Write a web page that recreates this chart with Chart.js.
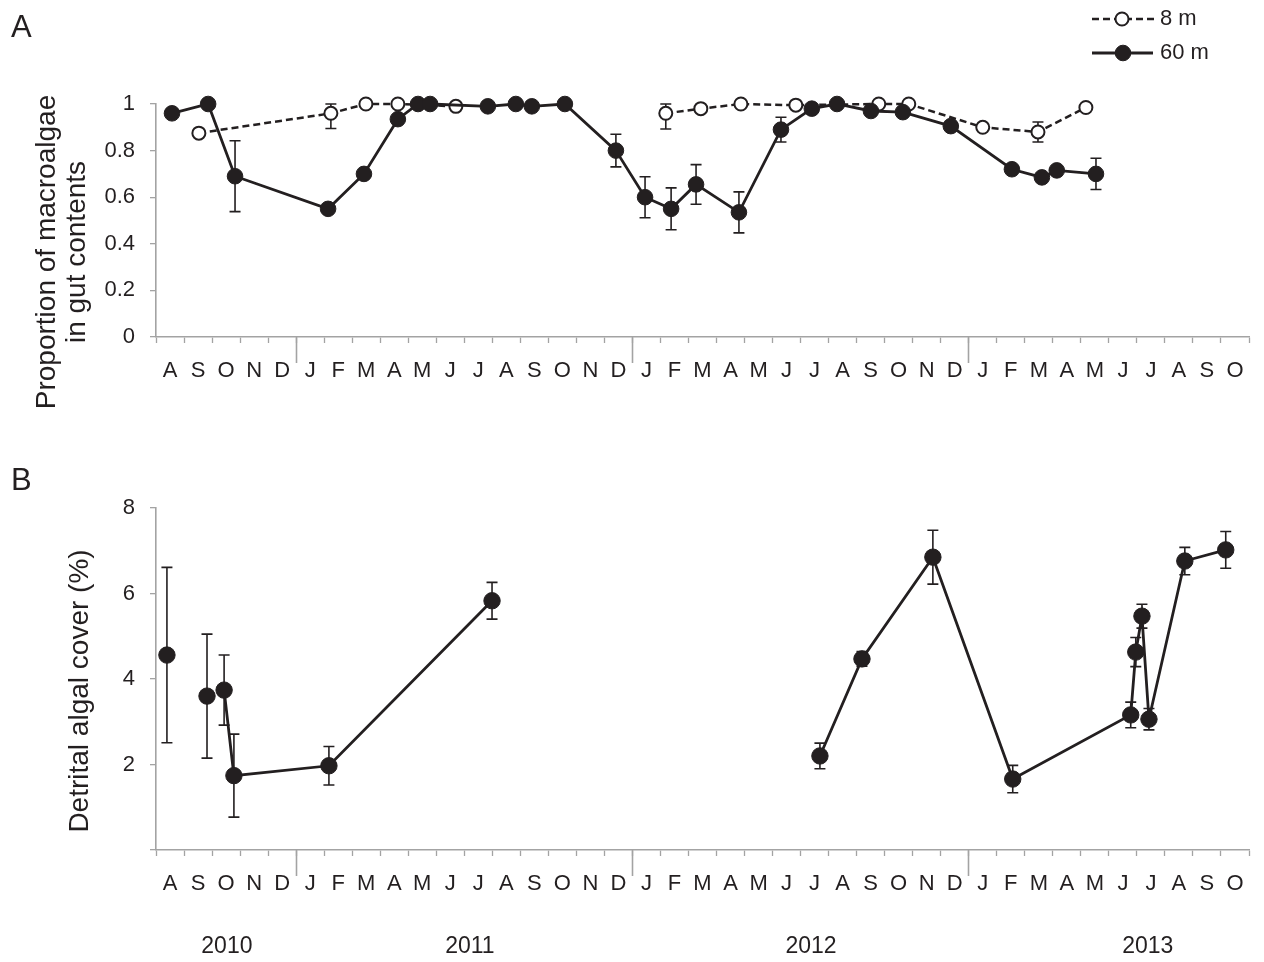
<!DOCTYPE html>
<html><head><meta charset="utf-8">
<script src="https://cdn.jsdelivr.net/npm/chart.js@4.4.0/dist/chart.umd.min.js"></script>
<style>
html,body{margin:0;padding:0;background:#fff;}
#wrap{position:relative;width:1264px;height:962px;overflow:hidden;}
#ca{position:absolute;left:0;top:0;}
#cb{position:absolute;left:0;top:460px;}
</style></head><body>
<div id="wrap"><canvas id="ca" width="1264" height="420"></canvas><canvas id="cb" width="1264" height="502"></canvas></div>
<script>
// ---------- data ----------
const monthLabels = ['A','S','O','N','D','J','F','M','A','M','J','J','A','S','O','N','D','J','F','M','A','M','J','J','A','S','O','N','D','J','F','M','A','M','J','J','A','S','O'];
const yearBreaks = [5, 17, 29];
const yearLabels = ['2010', '2011', '2012', '2013'];
const yearLabelPos = [2.53, 11.2, 23.37, 35.39];

// Panel A: proportion of macroalgae in gut contents (x = months since 1 Aug 2010)
const monthsA60 = [0.57,1.86,2.82,6.14,7.42,8.63,9.35,9.78,11.84,12.84,13.41,14.59,16.41,17.45,18.38,19.27,20.80,22.30,23.40,24.30,25.51,26.65,28.36,30.54,31.61,32.14,33.54];
const valuesA60 = [0.96,1.0,0.69,0.55,0.70,0.935,1.0,1.0,0.99,1.0,0.99,1.0,0.80,0.60,0.55,0.655,0.535,0.89,0.98,1.0,0.97,0.965,0.905,0.72,0.685,0.715,0.70];
const errorsA60 = [0,0,0.152,0,0,0,0,0,0,0,0,0,0.07,0.088,0.09,0.085,0.088,0.053,0,0,0,0,0,0,0,0,0.067];
const gapsA60 = [];

const monthsA8 = [1.53,6.24,7.49,8.63,10.70,18.19,19.44,20.87,22.83,25.79,26.86,29.50,31.47,33.18];
const valuesA8 = [0.875,0.96,1.0,1.0,0.99,0.96,0.98,1.0,0.995,1.0,1.0,0.90,0.88,0.985];
const errorsA8 = [0,0.065,0,0,0,0.067,0,0,0,0,0,0,0.043,0];
const gapsA8 = [4];

// Panel B: detrital algal cover (%)
const monthsB = [0.39,1.82,2.43,2.78,6.17,11.99,23.69,25.19,27.72,30.57,34.78,34.96,35.18,35.43,36.71,38.17];
const valuesB = [4.56,3.60,3.74,1.74,1.97,5.83,2.2,4.47,6.85,1.66,3.16,4.63,5.47,3.06,6.76,7.02];
const errorsB = [2.05,1.45,0.82,0.97,0.45,0.43,0.3,0.17,0.63,0.32,0.3,0.34,0.28,0.25,0.32,0.43];
const gapsB = [0, 1, 5];

// ---------- styling ----------
const FONT = "'Liberation Sans', Arial, Helvetica, sans-serif";
const INK = '#231f20';
const AXIS = '#a3a3a3';
const NONE = 'rgba(0,0,0,0)';
const TICK_SIZE = 22;

function buildSeries(months, values, errors, gaps) {
  const data = [], errs = [];
  months.forEach((m, i) => {
    data.push({x: m, y: values[i]}); errs.push(errors[i]);
    if (gaps.includes(i)) { data.push({x: m, y: null}); errs.push(null); }
  });
  return {data, errs};
}

const halfTicks = [];
for (let i = 0; i <= monthLabels.length * 2; i++) halfTicks.push(i / 2);

const errorBarPlugin = {
  id: 'errorBars',
  beforeDatasetsDraw(chart) {
    const ctx = chart.ctx;
    chart.data.datasets.forEach((ds, di) => {
      if (!ds.errorBars) return;
      const meta = chart.getDatasetMeta(di);
      const ys = chart.scales[meta.yAxisID];
      ctx.save();
      ctx.strokeStyle = INK; ctx.lineWidth = 1.6;
      ds.data.forEach((p, i) => {
        const e = ds.errorBars[i];
        if (!e || p.y == null) return;
        const x = meta.data[i].x;
        const yT = ys.getPixelForValue(Math.min(p.y + e, ys.max));
        const yB = ys.getPixelForValue(Math.max(p.y - e, ys.min));
        ctx.beginPath();
        ctx.moveTo(x, yT); ctx.lineTo(x, yB);
        ctx.moveTo(x - 5.5, yT); ctx.lineTo(x + 5.5, yT);
        ctx.moveTo(x - 5.5, yB); ctx.lineTo(x + 5.5, yB);
        ctx.stroke();
      });
      ctx.restore();
    });
  }
};

const lineLegendPlugin = {
  id: 'lineLegend',
  afterDraw(chart, args, opts) {
    if (!opts.items) return;
    const ctx = chart.ctx;
    opts.items.forEach(it => {
      const ds = chart.data.datasets[it.dataset];
      ctx.save();
      ctx.strokeStyle = ds.borderColor; ctx.lineWidth = ds.borderWidth;
      ctx.setLineDash(ds.borderDash || []);
      ctx.beginPath(); ctx.moveTo(it.x0, it.y); ctx.lineTo(it.x1, it.y); ctx.stroke();
      ctx.setLineDash([]);
      ctx.beginPath(); ctx.arc(it.cx, it.y, ds.pointRadius, 0, Math.PI * 2);
      ctx.fillStyle = ds.pointBackgroundColor; ctx.fill();
      ctx.lineWidth = ds.pointBorderWidth; ctx.strokeStyle = ds.pointBorderColor; ctx.stroke();
      ctx.fillStyle = INK; ctx.font = `${opts.size}px ${FONT}`;
      ctx.textAlign = 'left'; ctx.textBaseline = 'middle';
      ctx.fillText(ds.label, it.tx, it.y);
      ctx.restore();
    });
  }
};

const panelTextPlugin = {
  id: 'panelText',
  afterDraw(chart, args, opts) {
    const ctx = chart.ctx;
    (opts.texts || []).forEach(t => {
      ctx.save();
      ctx.font = `${t.size}px ${FONT}`; ctx.fillStyle = INK;
      ctx.textAlign = t.align || 'left'; ctx.textBaseline = 'middle';
      ctx.translate(t.x, t.y);
      if (t.rotate) ctx.rotate(t.rotate);
      ctx.fillText(t.text, 0, 0);
      ctx.restore();
    });
  }
};

function monthAxis(height) {
  return {
    type: 'linear', min: 0, max: monthLabels.length, position: 'bottom', weight: 2,
    afterBuildTicks: s => { s.ticks = halfTicks.map(v => ({value: v})); },
    afterFit: s => { s.height = height; },
    grid: {drawOnChartArea: false, tickLength: 6, tickWidth: 1.3,
      tickColor: c => (c.tick && Number.isInteger(c.tick.value)) ? AXIS : NONE},
    border: {color: AXIS, width: 1.6},
    ticks: {autoSkip: false, maxRotation: 0, minRotation: 0, padding: 15, color: INK,
      font: {family: FONT, size: TICK_SIZE},
      callback: v => Number.isInteger(v) ? '' : monthLabels[Math.floor(v)]}
  };
}
function yearTickAxis() {
  return {
    type: 'linear', min: 0, max: monthLabels.length, position: 'bottom', weight: 0,
    afterBuildTicks: s => { s.ticks = yearBreaks.map(v => ({value: v})); },
    afterFit: s => { s.height = 0; },
    grid: {drawOnChartArea: false, tickLength: 26, tickWidth: 1.6, tickColor: AXIS},
    border: {display: false},
    ticks: {display: false}
  };
}
function yAxis(min, max, step, padLeft, cb) {
  return {
    min, max, position: 'left',
    afterFit: s => { s.width = padLeft; },
    grid: {drawOnChartArea: false, tickLength: 6, color: AXIS, lineWidth: 1.3},
    border: {color: AXIS, width: 1.6},
    ticks: {stepSize: step, padding: 15, color: INK, font: {family: FONT, size: TICK_SIZE}, callback: cb}
  };
}

// ---------- Panel A ----------
const sA60 = buildSeries(monthsA60, valuesA60, errorsA60, gapsA60);
const sA8 = buildSeries(monthsA8, valuesA8, errorsA8, gapsA8);

new Chart(document.getElementById('ca'), {
  type: 'line',
  data: {datasets: [
    {label: '60 m', data: sA60.data, errorBars: sA60.errs, borderColor: INK, borderWidth: 2.8,
     pointRadius: 7.8, pointBackgroundColor: INK, pointBorderColor: INK, pointBorderWidth: 1,
     spanGaps: false, clip: false, tension: 0},
    {label: '8 m', data: sA8.data, errorBars: sA8.errs, borderColor: INK, borderWidth: 2.5, borderDash: [7, 4],
     pointRadius: 6.5, pointBackgroundColor: '#ffffff', pointBorderColor: INK, pointBorderWidth: 2,
     spanGaps: false, clip: false, tension: 0}
  ]},
  options: {
    responsive: false, animation: false, events: [],
    layout: {padding: {top: 104, right: 14, left: 0, bottom: 0}},
    plugins: {
      legend: {display: false}, tooltip: {enabled: false},
      lineLegend: {size: 22, items: [
        {dataset: 1, x0: 1092, x1: 1155, cx: 1122, tx: 1160, y: 19},
        {dataset: 0, x0: 1092, x1: 1153, cx: 1123, tx: 1160, y: 53}
      ]},
      panelText: {texts: [
        {text: 'A', x: 11, y: 28, size: 31},
        {text: 'Proportion of macroalgae', x: 47, y: 252, size: 28, align: 'center', rotate: -Math.PI / 2},
        {text: 'in gut contents', x: 77, y: 252, size: 28, align: 'center', rotate: -Math.PI / 2}
      ]}
    },
    scales: {
      x: monthAxis(83),
      xYear: yearTickAxis(),
      y: yAxis(0, 1, 0.2, 156, v => v)
    }
  },
  plugins: [errorBarPlugin, lineLegendPlugin, panelTextPlugin]
});

// ---------- Panel B ----------
const sB = buildSeries(monthsB, valuesB, errorsB, gapsB);

new Chart(document.getElementById('cb'), {
  type: 'line',
  data: {datasets: [
    {label: 'Detrital algal cover', data: sB.data, errorBars: sB.errs, borderColor: INK, borderWidth: 2.8,
     pointRadius: 8.2, pointBackgroundColor: INK, pointBorderColor: INK, pointBorderWidth: 1,
     spanGaps: false, clip: false, tension: 0}
  ]},
  options: {
    responsive: false, animation: false, events: [],
    layout: {padding: {top: 48, right: 14, left: 0, bottom: 0}},
    plugins: {
      legend: {display: false}, tooltip: {enabled: false},
      panelText: {texts: [
        {text: 'B', x: 11, y: 21, size: 31},
        {text: 'Detrital algal cover (%)', x: 80, y: 231, size: 28, align: 'center', rotate: -Math.PI / 2}
      ]}
    },
    scales: {
      x: monthAxis(52),
      xYear: yearTickAxis(),
      xLab: {
        type: 'linear', min: 0, max: monthLabels.length, position: 'bottom', weight: 3,
        afterBuildTicks: s => { s.ticks = yearLabelPos.map(v => ({value: v})); },
        afterFit: s => { s.height = 60; },
        grid: {drawOnChartArea: false, drawTicks: false, tickColor: NONE, color: NONE},
        border: {display: false},
        ticks: {autoSkip: false, maxRotation: 0, minRotation: 0, padding: 31, color: INK,
          font: {family: FONT, size: 23},
          callback: (v, i) => yearLabels[i]}
      },
      y: yAxis(0, 8, 2, 156, v => (v === 0 ? '' : v))
    }
  },
  plugins: [errorBarPlugin, panelTextPlugin]
});
</script>
</body></html>
